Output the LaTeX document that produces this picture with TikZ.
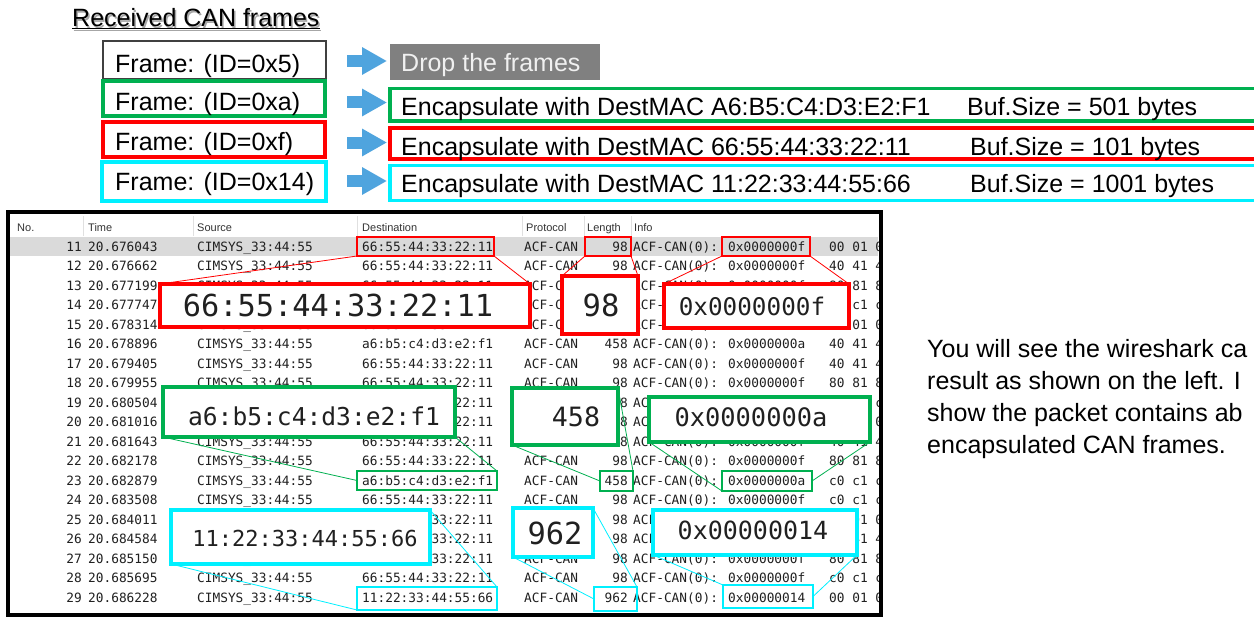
\documentclass[tikz,border=0pt]{standalone}
\usepackage{fontspec}
\setmainfont{Liberation Sans}
\newfontfamily\wsmono{DejaVu Sans Mono}
\usetikzlibrary{arrows.meta,calc}

\definecolor{cgreen}{RGB}{0,176,80}
\definecolor{cred}{RGB}{255,0,0}
\definecolor{ccyan}{RGB}{0,240,255}
\definecolor{arrowblue}{RGB}{79,164,222}
\definecolor{dropgray}{RGB}{128,128,128}
\definecolor{rowsel}{RGB}{218,218,218}
\definecolor{ink}{RGB}{32,32,32}

\tikzset{
  lbl/.style={font=\fontsize{25}{30}\selectfont, inner sep=0pt, anchor=base west},
  framebox/.style={draw=#1, line width=3.5pt, minimum width=222pt, minimum height=35pt, inner sep=0pt, outer sep=0pt},
  rulebox/.style={draw=#1, line width=3.5pt, minimum width=872pt, inner sep=0pt, outer sep=0pt},
  flow/.style={arrowblue, line width=12pt, -{Triangle[length=25pt,width=26pt]}},
  cell/.style={font=\wsmono\fontsize{12.8}{15}\selectfont, text=ink, inner sep=0pt, anchor=base west},
  cellr/.style={cell, anchor=base east},
  head/.style={font=\fontsize{11}{13}\selectfont, text=black!80, inner sep=0pt, anchor=base west},
  pick/.style={draw=#1, line width=2pt, inner sep=0pt, outer sep=0pt},
  zoombox/.style={draw=#1, line width=4pt, fill=white, inner sep=0pt, outer sep=0pt},
  zoomtxt/.style={font=\wsmono\fontsize{#1}{#1}\selectfont, text=ink, inner sep=0pt},
  lead/.style={draw=#1, line width=0.8pt},
  para/.style={font=\fontsize{25}{32}\selectfont, inner sep=0pt, anchor=base west},
}

\begin{document}
\begin{tikzpicture}[x=1pt,y=-1pt]
\useasboundingbox[fill=white] (0,0) rectangle (1254,618);

% ---------- title ----------
\node[lbl, text=black!35] (titleshadow) at (73.5,28.5) {\underline{Received CAN frames}};
\node[lbl] (title) at (72,27) {\underline{Received CAN frames}};

% ---------- received frames ----------
\node[framebox=black!75, line width=1.2pt, minimum width=223pt, minimum height=38pt] (f1) at (214.5,60) {};
\node[framebox=cgreen] (f2) at (214,98.5) {};
\node[framebox=cred] (f3) at (214,139.5) {};
\node[framebox=ccyan, minimum width=224pt, minimum height=39pt] (f4) at (214,181.5) {};
\node[lbl] (t1) at (115,72.7) {Frame: (ID=0x5)};
\node[lbl] (t2) at (115,110.7) {Frame: (ID=0xa)};
\node[lbl] (t3) at (115,150.7) {Frame: (ID=0xf)};
\node[lbl] (t4) at (115,190) {Frame: (ID=0x14)};

% ---------- actions ----------
\node[fill=dropgray, minimum width=210pt, minimum height=36pt, inner sep=0pt, outer sep=0pt] (drop) at (495,62) {};
\node[lbl, text=black!6] (dropt) at (401,72) {Drop the frames};

\node[rulebox=cgreen, minimum height=32.5pt] (e2) at (826,104.75) {};
\node[rulebox=cred, minimum height=31pt] (e3) at (826,143.5) {};
\node[rulebox=ccyan, minimum height=35pt] (e4) at (826,183) {};

\node[lbl] (e2a) at (401,115) {Encapsulate with};
\node[lbl] (e2b) at (597,115) {DestMAC A6:B5:C4:D3:E2:F1};
\node[lbl] (e2c) at (967,115) {Buf.Size = 501 bytes};
\node[lbl] (e3a) at (401,155) {Encapsulate with};
\node[lbl] (e3b) at (597,155) {DestMAC 66:55:44:33:22:11};
\node[lbl] (e3c) at (970,155) {Buf.Size = 101 bytes};
\node[lbl] (e4a) at (401,192) {Encapsulate with};
\node[lbl] (e4b) at (597,192) {DestMAC 11:22:33:44:55:66};
\node[lbl] (e4c) at (970,192) {Buf.Size = 1001 bytes};

\draw[flow] ($(drop.west)+(-43,-1)$) -- ($(drop.west)+(-3,-1)$);
\draw[flow] ($(e2.west)+(-43,-2.25)$) -- ($(e2.west)+(-3,-2.25)$);
\draw[flow] ($(e3.west)+(-43,-1)$) -- ($(e3.west)+(-3,-1)$);
\draw[flow] ($(e4.west)+(-43,-2)$) -- ($(e4.west)+(-3,-2)$);

% ---------- packet list ----------
\fill[rowsel] (10,236.5) rectangle (878,256);
\foreach \x in {83,193,357,522,584,631}
  \draw[black!12, line width=0.8pt] (\x,216) -- (\x,236);
\node[head] (hno)   at (17,231)  {No.};
\node[head] (htime) at (88,231)  {Time};
\node[head] (hsrc)  at (197,231) {Source};
\node[head] (hdst)  at (362,231) {Destination};
\node[head] (hpro)  at (526,231) {Protocol};
\node[head] (hlen)  at (587,231) {Length};
\node[head] (hinf)  at (634,231) {Info};

\begin{scope}
\clip (10,214) rectangle (878,613);
\foreach \rn/\rt/\rd/\rl/\ri/\rh [count=\k from 0] in {
  11/20.676043/66:55:44:33:22:11/98/0x0000000f/00 01 0,
  12/20.676662/66:55:44:33:22:11/98/0x0000000f/40 41 4,
  13/20.677199/66:55:44:33:22:11/98/0x0000000f/80 81 8,
  14/20.677747/66:55:44:33:22:11/98/0x0000000f/c0 c1 c,
  15/20.678314/66:55:44:33:22:11/98/0x0000000f/00 01 0,
  16/20.678896/a6:b5:c4:d3:e2:f1/458/0x0000000a/40 41 4,
  17/20.679405/66:55:44:33:22:11/98/0x0000000f/40 41 4,
  18/20.679955/66:55:44:33:22:11/98/0x0000000f/80 81 8,
  19/20.680504/66:55:44:33:22:11/98/0x0000000f/c0 c1 c,
  20/20.681016/66:55:44:33:22:11/98/0x0000000f/00 01 0,
  21/20.681643/66:55:44:33:22:11/98/0x0000000f/40 41 4,
  22/20.682178/66:55:44:33:22:11/98/0x0000000f/80 81 8,
  23/20.682879/a6:b5:c4:d3:e2:f1/458/0x0000000a/c0 c1 c,
  24/20.683508/66:55:44:33:22:11/98/0x0000000f/c0 c1 c,
  25/20.684011/66:55:44:33:22:11/98/0x0000000f/00 01 0,
  26/20.684584/66:55:44:33:22:11/98/0x0000000f/40 41 4,
  27/20.685150/66:55:44:33:22:11/98/0x0000000f/80 81 8,
  28/20.685695/66:55:44:33:22:11/98/0x0000000f/c0 c1 c,
  29/20.686228/11:22:33:44:55:66/962/0x00000014/00 01 0}
{
  \pgfmathsetmacro{\yb}{251+19.5*\k}
  \node[cellr] (no\rn)  at (82,\yb)  {\rn};
  \node[cell]  (tm\rn)  at (88,\yb)  {\rt};
  \node[cell]  (src\rn) at (197,\yb) {CIMSYS\_33:44:55};
  \node[cell]  (dst\rn) at (362,\yb) {\rd};
  \node[cell]  (pro\rn) at (524,\yb) {ACF-CAN};
  \node[cellr] (len\rn) at (628,\yb) {\rl};
  \node[cell]  (inf\rn) at (633,\yb) {ACF-CAN(0): \ri};
  \node[cell]  (hex\rn) at (829,\yb) {\rh};
}
\end{scope}
\draw[line width=4.5pt] (8,212) rectangle (881,615);

% ---------- magnified fields ----------
% ID 0xf
\node[zoombox=cred, minimum width=370pt, minimum height=43pt] (rb1) at (345,305.5) {};
\node[zoombox=cred, minimum width=76pt,  minimum height=58pt] (rb2) at (600,305) {};
\node[zoombox=cred, minimum width=185pt, minimum height=44pt] (rb3) at (756.5,306) {};
\node[zoomtxt=30.3] (rt1) at (338,305) {66:55:44:33:22:11};
\node[zoomtxt=30.5] (rt2) at (601,305) {98};
\node[zoomtxt=24.3] (rt3) at (752,306) {0x0000000f};
\node[pick=cred, minimum width=137pt, minimum height=19pt] (rs1) at (425.5,246.5) {};
\node[pick=cred, minimum width=46pt,  minimum height=19pt] (rs2) at (608,246.5) {};
\node[pick=cred, minimum width=88pt,  minimum height=19pt] (rs3) at (766,246.5) {};
\draw[lead=cred] (rs1.south west) -- (rb1.north west);
\draw[lead=cred] (rs1.south east) -- (rb1.north east);
\draw[lead=cred] (rs2.south west) -- (rb2.north west);
\draw[lead=cred] (rs2.south east) -- (rb2.north east);
\draw[lead=cred] (rs3.south west) -- (rb3.north west);
\draw[lead=cred] (rs3.south east) -- (rb3.north east);

% ID 0xa
\node[zoombox=cgreen, minimum width=292pt, minimum height=50pt] (gb1) at (309,412) {};
\node[zoombox=cgreen, minimum width=106pt, minimum height=57pt] (gb2) at (565,416.5) {};
\node[zoombox=cgreen, minimum width=221pt, minimum height=45pt] (gb3) at (759.5,419.5) {};
\node[zoomtxt=24.6] (gt1) at (314,416) {a6:b5:c4:d3:e2:f1};
\node[zoomtxt=26.6] (gt2) at (576,417) {458};
\node[zoomtxt=25.4] (gt3) at (751,417) {0x0000000a};
\node[pick=cgreen, minimum width=140pt, minimum height=19pt] (gs1) at (427,480.5) {};
\node[pick=cgreen, minimum width=33pt,  minimum height=20pt] (gs2) at (616.5,481) {};
\node[pick=cgreen, minimum width=90pt,  minimum height=20pt] (gs3) at (767,481) {};
\draw[lead=cgreen] (gb1.south west) -- (gs1.west);
\draw[lead=cgreen] (gb1.south east) -- (gs1.north east);
\draw[lead=cgreen] (gb2.south west) -- (gs2.west);
\draw[lead=cgreen] (gb2.north east) -- (gs2.north east);
\draw[lead=cgreen] (gb3.south west) -- (gs3.south west);
\draw[lead=cgreen] (gb3.south east) -- (gs3.east);

% ID 0x14
\node[zoombox=ccyan, minimum width=259pt, minimum height=54pt] (cb1) at (300.5,537) {};
\node[zoombox=ccyan, minimum width=80pt,  minimum height=49pt] (cb2) at (553,532.5) {};
\node[zoombox=ccyan, minimum width=204pt, minimum height=45pt] (cb3) at (755,532.5) {};
\node[zoomtxt=22] (ct1) at (305,538) {11:22:33:44:55:66};
\node[zoomtxt=30.4] (ct2) at (555,533) {962};
\node[zoomtxt=25] (ct3) at (753,530) {0x00000014};
\node[pick=ccyan, minimum width=140pt, minimum height=23pt] (cs1) at (427,598.5) {};
\node[pick=ccyan, minimum width=43pt,  minimum height=24pt] (cs2) at (615.5,599) {};
\node[pick=ccyan, minimum width=90pt,  minimum height=23pt] (cs3) at (768,596.5) {};
\draw[lead=ccyan] (cb1.north east) -- (cs1.north east);
\draw[lead=ccyan] (cb1.south west) -- (cs1.south west);
\draw[lead=ccyan] (cb2.south west) -- (cs2.west);
\draw[lead=ccyan] (cb2.north east) -- (cs2.north east);
\draw[lead=ccyan] (cb3.south west) -- (cs3.north west);
\draw[lead=ccyan] (cb3.south east) -- (cs3.east);

% ---------- explanation ----------
\node[para] (p1) at (927,357) {You will see the wireshark ca};
\node[para] (p2) at (927,389) {result as shown on the left. I};
\node[para] (p3) at (927,421) {show the packet contains ab};
\node[para] (p4) at (927,453) {encapsulated CAN frames.};
\end{tikzpicture}
\end{document}
